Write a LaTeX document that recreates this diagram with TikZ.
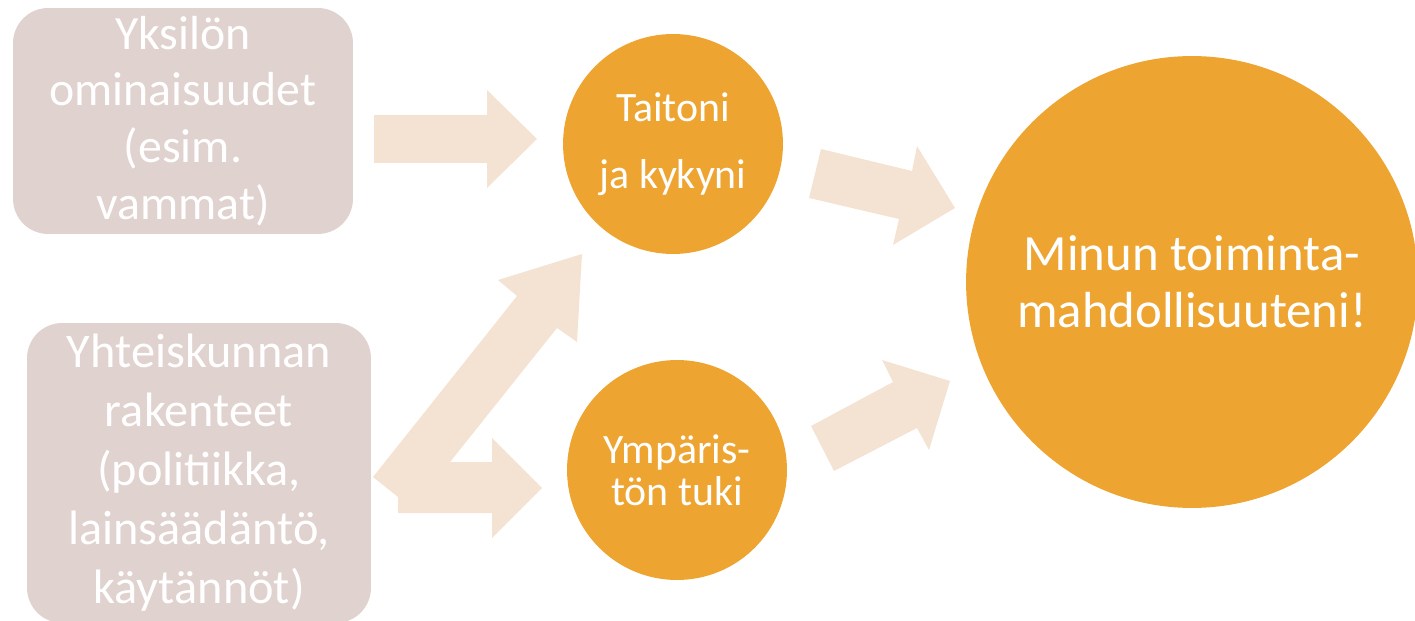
\documentclass[tikz,border=0pt]{standalone}
\usepackage{fontspec}
\setmainfont{Carlito}
\definecolor{boxrose}{RGB}{224,210,206}
\definecolor{sunorange}{RGB}{238,164,49}
\definecolor{arrowtan}{RGB}{244,227,211}
\tikzset{
  factorbox/.style={rectangle, rounded corners=20pt, fill=boxrose, text=white, align=center, inner sep=0pt},
  skillball/.style={circle, fill=sunorange, text=white, align=center, inner sep=0pt},
  blockarrow/.style={fill=arrowtan}
}
\begin{document}
\begin{tikzpicture}[x=0.02cm,y=-0.02cm]
	    \useasboundingbox (0,0) rectangle (1415,621);
	    
	    % arrows
	    \fill [blockarrow] (374,115) -- (487,115) -- (487,90) -- (537,139) -- (487,188) -- (487,163) -- (374,163) -- cycle;
	    \fill [blockarrow] (821,149) -- (912,171) -- (917,146) -- (955,208) -- (893,245) -- (899,219) -- (809,198) -- cycle;
	    \fill [blockarrow] (811,426) -- (893,382) -- (882,360) -- (950,381) -- (929,450) -- (917,428) -- (834,471) -- cycle;
	    \fill [blockarrow] (373,477) -- (517,296) -- (498,280) -- (582,254) -- (577,342) -- (557,328) -- (450,462) -- (492,462) -- (492,438) -- (542,488) -- (492,538) -- (492,513) -- (398,513) -- (398,497) -- cycle;
	    
	    % left boxes
	    \node [factorbox, minimum width=6.8cm, minimum height=4.52cm, font=\fontsize{27.2pt}{32.2pt}\selectfont] (yksilo) at (183,121) {Yksilön\\ominaisuudet\\(esim.\\vammat)};
	    \node [factorbox, minimum width=6.88cm, minimum height=6cm, font=\fontsize{27.5pt}{33.6pt}\selectfont] (yhteis) at (199,473) {Yhteiskunnan\\rakenteet\\(politiikka,\\lainsäädäntö,\\käytännöt)};
	    
	    % circles
	    \node [skillball, minimum size=4.4cm, font=\fontsize{23.8pt}{38pt}\selectfont] (taidot) at (673,144) {Taitoni\\ja kykyni};
	    \node [skillball, minimum size=4.4cm, font=\fontsize{23.8pt}{23.8pt}\selectfont] (tuki) at (677,470) {Ympäris-\\tön tuki};
	    \node [skillball, minimum size=9.04cm, font=\fontsize{28.9pt}{32.3pt}\selectfont] (mahd) at (1192,282) {Minun toiminta-\\mahdollisuuteni!};
	    
\end{tikzpicture}
\end{document}
